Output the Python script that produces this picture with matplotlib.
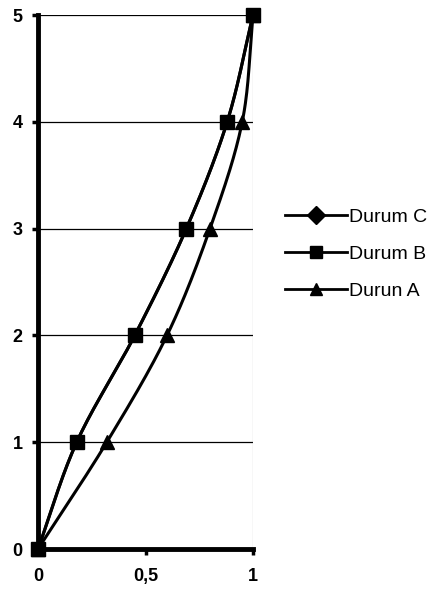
import numpy as np
import matplotlib
matplotlib.use("Agg")
import matplotlib.pyplot as plt
from matplotlib.lines import Line2D

plt.rcParams['font.family'] = ['Liberation Sans', 'DejaVu Sans']

# Data
levels = [0, 1, 2, 3, 4, 5]
durum_c = [0.0, 0.18, 0.45, 0.69, 0.88, 1.0]
durum_b = [0.0, 0.18, 0.45, 0.69, 0.88, 1.0]
durun_a = [0.0, 0.32, 0.60, 0.80, 0.95, 1.0]
series_names = ["Durum C", "Durum B", "Durun A"]
x_ticks = [0, 0.5, 1]
x_tick_labels = ["0", "0,5", "1"]
y_ticks = [0, 1, 2, 3, 4, 5]


def smooth(xs, ys, n=30):
    """Catmull-Rom curve through the points (spreadsheet-style smoothed line)."""
    p = np.column_stack([xs, ys]).astype(float)
    p = np.vstack([2 * p[0] - p[1], p, 2 * p[-1] - p[-2]])
    out = []
    t = np.linspace(0, 1, n)[:, None]
    for i in range(1, len(p) - 2):
        p0, p1, p2, p3 = p[i - 1], p[i], p[i + 1], p[i + 2]
        seg = 0.5 * ((2 * p1) + (-p0 + p2) * t + (2 * p0 - 5 * p1 + 4 * p2 - p3) * t**2
                     + (-p0 + 3 * p1 - 3 * p2 + p3) * t**3)
        out.append(seg if i == 1 else seg[1:])
    out = np.vstack(out)
    return out[:, 0], out[:, 1]


fig = plt.figure(figsize=(4.33, 5.91), dpi=100)
ax = fig.add_axes([38 / 433, 42 / 591, 215 / 433, 534 / 591])

for yv in y_ticks[1:]:
    ax.axhline(yv, color="black", lw=0.9, zorder=1)
ax.axvline(1, color="#777777", lw=0.8, zorder=1)

# (marker, size drawn on the plot, x values); Durum C lies beneath Durum B
styles = [("D", 7, durum_c), ("s", 10, durum_b), ("^", 10, durun_a)]
for marker, size, xs in styles:
    sx, sy = smooth(xs, levels)
    ax.plot(sx, sy, color="black", lw=2.2, zorder=3, clip_on=False)
    ax.plot(xs, levels, ls="none", marker=marker, ms=size, color="black", zorder=4,
            clip_on=False)

ax.set_xlim(0, 1)
ax.set_ylim(0, 5)
ax.set_xticks(x_ticks)
ax.set_xticklabels(x_tick_labels)
ax.set_yticks(y_ticks)
for side in ["top", "right"]:
    ax.spines[side].set_visible(False)
ax.spines["left"].set_linewidth(3.5)
ax.spines["bottom"].set_linewidth(3.5)
ax.tick_params(axis="both", length=4, width=2.5, labelsize=13)
ax.tick_params(axis="x", pad=10)
ax.tick_params(axis="y", pad=7)
for lab in ax.get_xticklabels() + ax.get_yticklabels():
    lab.set_fontweight("bold")
for s in ax.spines.values():
    s.set_zorder(5)

handles = [Line2D([], [], color="black", lw=2, marker=m, ms=9) for m, _, _ in styles]
fig.legend(handles, series_names, loc="center left", bbox_to_anchor=(285 / 433, 1 - 254 / 591),
           frameon=False, fontsize=14, handlelength=3.2, handletextpad=0.1,
           labelspacing=1.0, borderaxespad=0, borderpad=0)

fig.savefig("out.png", dpi=100)
